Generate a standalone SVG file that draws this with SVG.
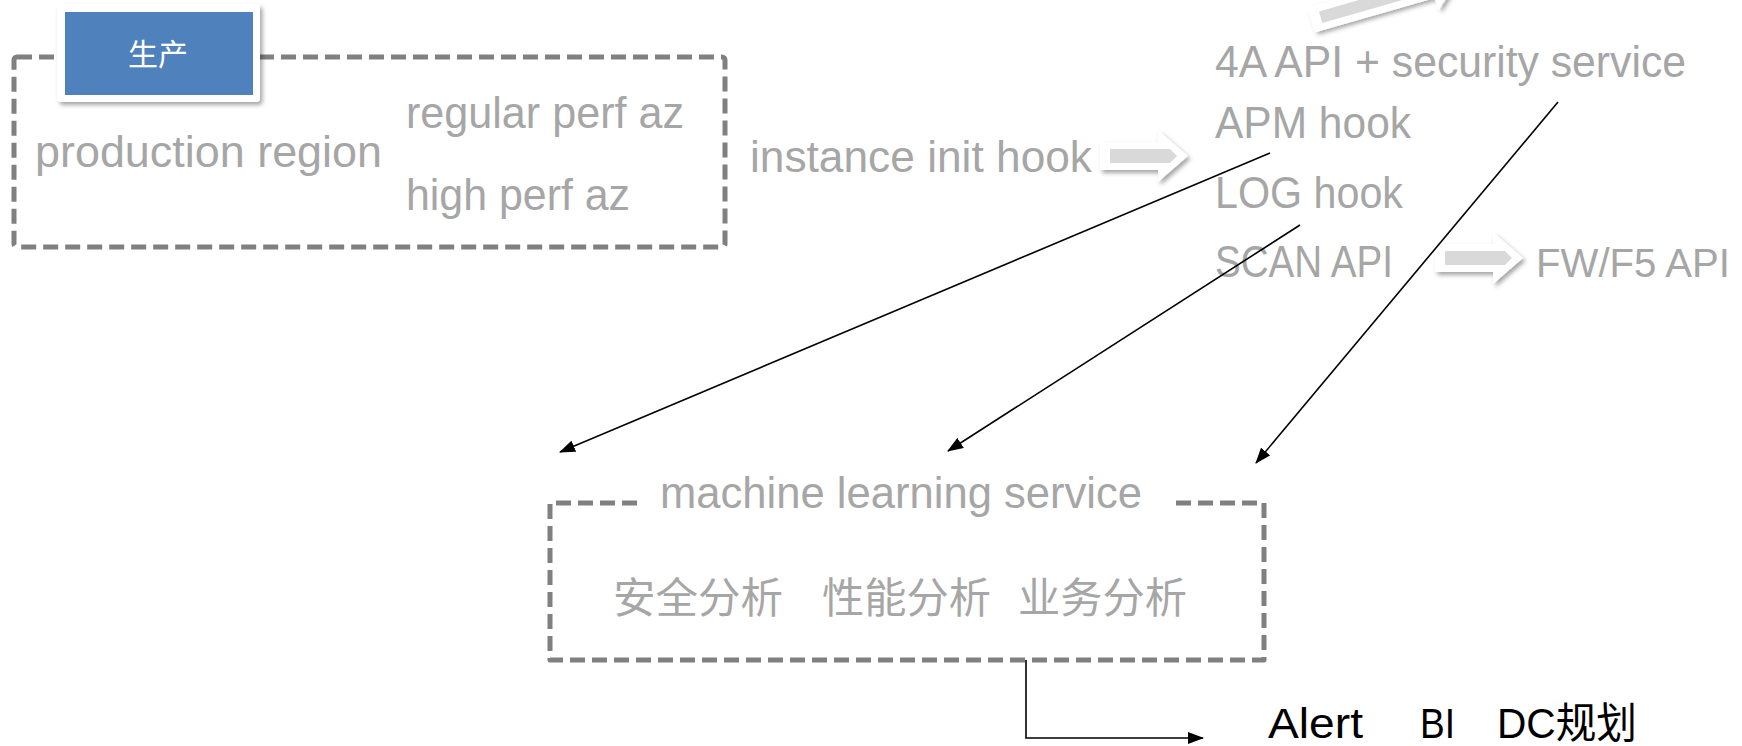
<svg xmlns="http://www.w3.org/2000/svg" xmlns:xlink="http://www.w3.org/1999/xlink" width="1742" height="746" viewBox="0 0 1742 746">
<style>
.gt{font-family:"Liberation Sans",Arial,"Noto Sans CJK SC",sans-serif;font-size:44px;fill:#A6A6A6}
.cj{font-family:"Noto Sans CJK SC","Liberation Sans",sans-serif;font-size:42px;fill:#A6A6A6}
.bk{font-family:"Liberation Sans","Noto Sans CJK SC",sans-serif;font-size:42px;fill:#000}
.dash{fill:none;stroke:#808080;stroke-width:5;stroke-dasharray:15 7;stroke-linejoin:round}
.conn{fill:none;stroke:#000;stroke-width:1.6}
</style>
<defs>
<filter id="sh" x="-20%" y="-30%" width="150%" height="170%">
<feDropShadow dx="2.5" dy="3" stdDeviation="2.2" flood-color="#000" flood-opacity="0.35"/>
</filter>
<marker id="ah" viewBox="0 0 16 12" markerWidth="16" markerHeight="12" refX="15" refY="6" orient="auto" markerUnits="userSpaceOnUse">
<path d="M0,0 L16,6 L0,12 Z" fill="#000"/>
</marker>
<g id="barrow">
<polygon points="0,-14 58,-14 58,-26 88,0 58,26 58,14 0,14" fill="#fff" filter="url(#sh)"/>
<polygon points="10,-7 70,-7 77,0 70,7 10,7" fill="#D9D9D9"/>
</g>
</defs>
<rect width="1742" height="746" fill="#fff"/>

<g id="production-region">
<rect class="dash" x="14" y="57" width="711" height="190" rx="3"/>
<text class="gt" x="35" y="167" textLength="347" lengthAdjust="spacingAndGlyphs">production region</text>
<text class="gt" x="406" y="128" textLength="278" lengthAdjust="spacingAndGlyphs">regular perf az</text>
<text class="gt" x="406" y="210" textLength="224" lengthAdjust="spacingAndGlyphs">high perf az</text>
</g>

<g id="prod-label">
<rect x="57" y="4" width="203" height="98" rx="4" fill="#fff" filter="url(#sh)"/>
<rect x="65" y="12" width="188" height="83" fill="#4F81BD"/>
<text x="158" y="65" text-anchor="middle" font-family="Noto Sans CJK SC, sans-serif" font-size="30" fill="#fff">生产</text>
</g>

<g id="init-hook">
<text class="gt" x="750" y="172" textLength="342" lengthAdjust="spacingAndGlyphs">instance init hook</text>
<use xlink:href="#barrow" transform="translate(1100,156)"/>
</g>

<g id="top-arrow">
<g transform="translate(1311,20) rotate(-16)">
<polygon points="0,-13 125,-13 125,-26 155,0 125,26 125,13 0,13" fill="#fff" filter="url(#sh)"/>
<polygon points="10,-6 137,-6 144,0 137,6 10,6" fill="#D9D9D9"/>
</g>
</g>

<g id="hooks">
<text class="gt" x="1215" y="77" textLength="471" lengthAdjust="spacingAndGlyphs">4A API + security service</text>
<text class="gt" x="1215" y="138" textLength="196" lengthAdjust="spacingAndGlyphs">APM hook</text>
<text class="gt" x="1215" y="208" textLength="188" lengthAdjust="spacingAndGlyphs">LOG hook</text>
<text class="gt" x="1215" y="277" textLength="178" lengthAdjust="spacingAndGlyphs">SCAN API</text>
</g>

<g id="fw-api">
<use xlink:href="#barrow" transform="translate(1435,258)"/>
<text class="gt" x="1536" y="277" style="font-size:41px" textLength="194" lengthAdjust="spacingAndGlyphs">FW/F5 API</text>
</g>

<g id="ml-service">
<path class="dash" d="M637,503 L550,503 L550,660 L1264,660 L1264,503 L1170,503"/>
<text class="gt" x="660" y="508" textLength="482" lengthAdjust="spacingAndGlyphs">machine learning service</text>
<text class="cj" x="613" y="613" textLength="170" lengthAdjust="spacingAndGlyphs">安全分析</text>
<text class="cj" x="822" y="613" textLength="169" lengthAdjust="spacingAndGlyphs">性能分析</text>
<text class="cj" x="1018" y="613" textLength="169" lengthAdjust="spacingAndGlyphs">业务分析</text>
</g>

<g id="outputs">
<text class="bk" x="1268" y="738" textLength="95" lengthAdjust="spacingAndGlyphs">Alert</text>
<text class="bk" x="1420" y="738" textLength="35" lengthAdjust="spacingAndGlyphs">BI</text>
<text class="bk" x="1497" y="738" textLength="140" lengthAdjust="spacingAndGlyphs">DC规划</text>
</g>

<g id="connectors">
<line class="conn" x1="1270" y1="153" x2="560" y2="452" marker-end="url(#ah)"/>
<line class="conn" x1="1300" y1="225" x2="948" y2="451" marker-end="url(#ah)"/>
<line class="conn" x1="1558" y1="102" x2="1256" y2="463" marker-end="url(#ah)"/>
<polyline class="conn" points="1026,660 1026,738 1203,738" marker-end="url(#ah)"/>
</g>
</svg>
